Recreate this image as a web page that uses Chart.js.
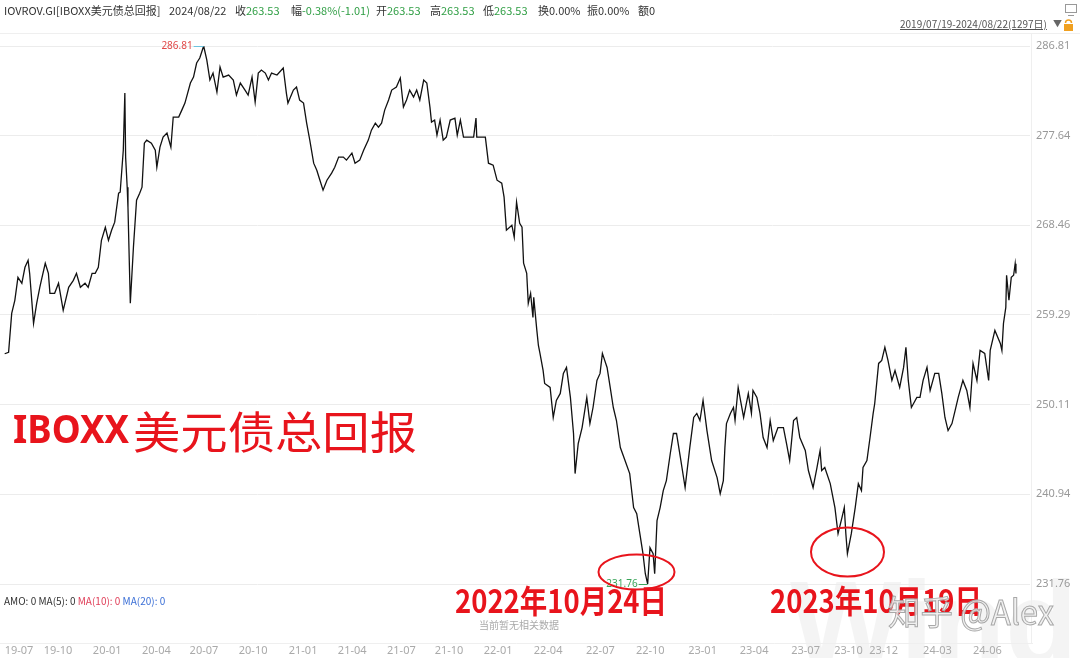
<!DOCTYPE html>
<html><head><meta charset="utf-8">
<script src="https://cdn.jsdelivr.net/npm/chart.js@4.4.1/dist/chart.umd.min.js"></script>
<style>
html,body{margin:0;padding:0;background:#fff;}
#wrap{position:relative;width:1080px;height:658px;overflow:hidden;font-family:"Noto Sans CJK SC","Noto Sans",sans-serif;}
#c{position:absolute;left:0;top:0;}
.hd{position:absolute;top:3px;font-size:11px;color:#333;white-space:nowrap;line-height:14px;}
.g{color:#2f9e44;}
#range{position:absolute;left:900px;top:17px;font-size:10px;color:#555;text-decoration:underline;white-space:nowrap;line-height:14px;}
#tri{position:absolute;left:1053px;top:17px;font-size:9px;color:#666;line-height:14px;}
</style></head><body>
<div id="wrap">
<canvas id="c" width="1080" height="658"></canvas>
<span class="hd" style="left:4px">IOVROV.GI[IBOXX美元债总回报]</span>
<span class="hd" style="left:169px">2024/08/22</span>
<span class="hd" style="left:235px">收<span class="g">263.53</span></span>
<span class="hd" style="left:291px">幅<span class="g">-0.38%(-1.01)</span></span>
<span class="hd" style="left:376px">开<span class="g">263.53</span></span>
<span class="hd" style="left:430px">高<span class="g">263.53</span></span>
<span class="hd" style="left:483px">低<span class="g">263.53</span></span>
<span class="hd" style="left:538px">换0.00%</span>
<span class="hd" style="left:587px">振0.00%</span>
<span class="hd" style="left:638px">额0</span>
<span id="range">2019/07/19-2024/08/22(1297日)</span>
<span id="tri">▼</span>
</div>
<script>
// ---- data (trading-day index since 2019/07/19, close value) ----
const dayIndex = [0,5,9,13,17,22,26,30,32,37,41,45,47,52,56,58,64,69,75,82,88,92,97,103,107,112,116,120,124,129,133,137,141,146,148,152,154,155,157,158,161,165,169,173,176,179,182,188,193,195,199,203,208,213,216,223,227,231,238,242,246,250,255,259,263,267,272,276,280,287,293,297,302,308,312,317,321,325,329,334,338,342,349,357,361,363,370,374,378,383,387,391,396,400,404,408,413,419,423,428,434,438,445,449,455,460,466,470,475,479,483,487,492,496,502,507,511,515,519,524,528,532,537,541,545,547,551,554,558,562,566,571,577,580,584,588,601,604,605,616,620,626,631,637,640,643,650,653,656,660,663,665,669,671,674,677,678,682,684,686,690,692,699,703,707,712,716,720,725,729,731,735,740,746,750,754,759,763,766,772,776,780,784,789,795,801,806,810,814,818,821,824,827,831,833,836,840,844,848,853,857,861,866,872,878,883,887,891,895,900,906,913,917,921,923,925,930,934,936,940,947,953,957,959,964,968,972,977,981,985,991,998,1002,1006,1011,1015,1019,1026,1030,1036,1041,1045,1047,1051,1058,1064,1068,1073,1076,1078,1080,1085,1090,1094,1098,1100,1105,1109,1113,1115,1120,1124,1128,1132,1137,1141,1147,1152,1155,1158,1162,1169,1173,1177,1182,1186,1192,1197,1201,1205,1209,1214,1218,1222,1228,1233,1237,1241,1246,1250,1256,1261,1263,1269,1276,1278,1280,1283,1284,1287,1290,1293,1295,1296];
const closeValues = [255.32,255.46,259.45,260.79,263.14,262.53,264.17,264.88,263.55,258.43,260.48,262.12,262.83,264.58,263.55,261.50,261.50,262.53,259.76,262.12,262.83,263.55,262.12,262.53,262.12,263.55,263.55,264.17,266.93,268.26,266.93,267.96,268.78,271.75,271.85,276.15,281.99,275.44,272.36,270.31,260.48,266.22,271.03,271.75,272.36,276.87,277.18,276.87,276.15,274.41,276.46,277.49,277.90,276.46,279.54,279.54,280.25,280.97,283.02,283.63,285.07,285.58,286.81,285.38,283.33,284.04,282.10,284.66,283.63,283.84,283.33,281.79,283.02,282.30,281.79,283.63,281.07,284.04,284.35,284.04,283.33,284.04,283.84,284.56,281.99,280.97,282.30,282.61,281.28,280.97,278.92,277.18,274.82,274.10,273.08,272.06,273.08,273.80,274.41,275.44,275.44,275.13,275.85,274.82,275.13,276.15,277.18,278.20,278.92,278.51,278.92,280.25,281.28,282.30,282.61,283.53,280.56,281.28,282.30,281.58,282.30,281.28,283.33,283.02,280.56,279.02,279.23,277.69,279.23,277.18,277.49,279.23,279.43,277.69,279.23,277.49,277.49,279.43,277.49,277.49,274.82,274.62,273.08,272.77,271.34,267.96,268.47,267.24,270.83,268.67,268.26,264.58,263.55,260.48,261.50,259.04,261.09,257.71,256.17,255.36,253.61,252.28,251.87,248.80,250.54,251.26,253.31,253.92,250.85,247.16,243.06,246.13,247.77,250.85,248.18,249.82,252.59,253.31,255.36,253.92,251.87,249.82,248.49,245.72,244.39,243.06,239.58,238.96,236.91,234.86,232.81,231.76,235.48,234.86,232.81,238.24,239.58,241.32,242.34,245.11,247.16,247.16,244.70,241.63,245.72,248.80,249.21,248.49,250.54,247.46,244.39,242.65,241.01,242.34,245.72,248.18,249.21,249.82,248.49,251.87,248.80,251.26,249.21,251.56,250.85,249.21,246.75,245.72,248.49,246.44,247.77,247.77,246.13,244.39,248.49,248.80,246.75,245.42,243.37,241.63,243.68,245.42,243.37,243.68,242.03,239.58,236.91,238.55,239.58,236.91,234.86,236.91,239.58,242.03,241.32,243.68,244.39,246.75,249.21,250.23,254.33,254.64,255.97,254.64,252.59,253.61,251.87,253.92,255.97,252.59,249.82,250.85,250.85,252.59,253.92,251.56,253.31,253.31,251.26,248.80,247.46,248.18,249.51,250.85,252.59,251.56,249.82,254.33,252.59,255.66,255.36,252.59,255.66,257.71,256.38,255.66,258.43,260.07,263.35,260.79,263.14,263.35,264.54,263.53];
const yTicks = [231.76,240.94,250.11,259.29,268.46,277.64,286.81];
const xTickIdx = [0,50,113,176,237,300,364,427,490,551,614,678,745,809,876,942,1008,1063,1108,1177,1241];
const xTickLabels = ['19-07','19-10','20-01','20-04','20-07','20-10','21-01','21-04','21-07','21-10','22-01','22-04','22-07','22-10','23-01','23-04','23-07','23-10','23-12','24-03','24-06'];
const titleText = 'IBOXX美元债总回报';
const lowNotes = ['2022年10月24日','2023年10月19日'];

Chart.defaults.font.family = '"Noto Sans CJK SC","Noto Sans",sans-serif';

function fitText(c, text, x, y, w){
  const m = c.measureText(text).width;
  c.save(); c.translate(x, y); c.scale(w / m, 1); c.fillText(text, 0, 0); c.restore();
}

const deco = {
  id: 'deco',
  beforeDraw(chart){
    const c = chart.ctx; c.save();
    c.fillStyle = 'rgba(0,0,0,0.045)';
    c.font = 'bold 118px "Liberation Sans",sans-serif';
    c.textBaseline = 'alphabetic';
    c.fillText('Wind', 790, 664);
    c.restore();
  },
  afterDraw(chart){
    const c = chart.ctx, xs = chart.scales.x, ys = chart.scales.y;
    c.save();
    c.strokeStyle = '#efefef'; c.lineWidth = 1;
    c.beginPath(); c.moveTo(0, 33.5); c.lineTo(1080, 33.5); c.stroke();
    c.beginPath(); c.moveTo(0, 643.5); c.lineTo(1033, 643.5); c.stroke();
    c.beginPath(); c.moveTo(1031.5, 33); c.lineTo(1031.5, 643); c.stroke();
    c.textBaseline = 'middle'; c.textAlign = 'left';
    c.font = '10px "Noto Sans CJK SC","Noto Sans",sans-serif';
    let x = 4;
    [['AMO: 0 MA(5): 0 ', '#333'], ['MA(10): 0 ', '#e0405a'], ['MA(20): 0', '#3b6fd6']].forEach(([t, col]) => {
      c.fillStyle = col; c.fillText(t, x, 601); x += c.measureText(t).width;
    });
    c.fillStyle = '#aaa'; c.textAlign = 'center';
    c.fillText('当前暂无相关数据', 519, 625);
    let maxI = 0, minI = 0;
    closeValues.forEach((v, i) => { if (v > closeValues[maxI]) maxI = i; if (v < closeValues[minI]) minI = i; });
    const px = xs.getPixelForValue(dayIndex[maxI]), py = ys.getPixelForValue(closeValues[maxI]);
    const qx = xs.getPixelForValue(dayIndex[minI]), qy = ys.getPixelForValue(closeValues[minI]);
    c.font = '10px "Noto Sans",sans-serif'; c.textAlign = 'right';
    c.fillStyle = '#e04848'; c.fillText(closeValues[maxI].toFixed(2), px - 11, py);
    c.strokeStyle = '#6cc4e0'; c.beginPath(); c.moveTo(px - 10, py + 0.5); c.lineTo(px, py + 0.5); c.stroke();
    c.fillStyle = '#3aa55a'; c.fillText(closeValues[minI].toFixed(2), qx - 10, qy);
    c.strokeStyle = '#3aa55a'; c.beginPath(); c.moveTo(qx - 9, qy + 0.5); c.lineTo(qx, qy + 0.5); c.stroke();
    c.strokeStyle = '#e8141c'; c.lineWidth = 2;
    c.beginPath(); c.ellipse(636.5, 572, 38, 17.5, 0, 0, Math.PI * 2); c.stroke();
    c.beginPath(); c.ellipse(847.5, 552, 36.5, 24.5, 0, 0, Math.PI * 2); c.stroke();
    c.fillStyle = '#e8141c'; c.textAlign = 'left'; c.textBaseline = 'middle';
    c.font = 'bold 40px "Noto Sans","Noto Sans CJK SC",sans-serif';
    fitText(c, titleText.slice(0, 5), 13, 432, 116);
    c.font = '44px "Noto Sans CJK SC",sans-serif';
    fitText(c, titleText.slice(5), 133, 432, 284);
    c.font = 'bold 32px "Noto Sans CJK SC",sans-serif';
    fitText(c, lowNotes[0], 455, 601, 212);
    fitText(c, lowNotes[1], 770, 601, 212);
    c.font = '34px "Noto Sans CJK SC",sans-serif';
    c.fillStyle = 'rgba(238,238,238,0.85)'; c.strokeStyle = '#a8a8a8'; c.lineWidth = 1;
    const wm = '知乎 @Alex';
    const m = c.measureText(wm).width;
    c.save(); c.translate(888, 612); c.scale(166 / m, 1); c.fillText(wm, 0, 0); c.strokeText(wm, 0, 0); c.restore();
    c.strokeStyle = '#999'; c.lineWidth = 1;
    c.strokeRect(1065.5, 4.5, 11, 8); c.beginPath(); c.moveTo(1068, 15.5); c.lineTo(1074, 15.5); c.stroke();
    c.fillStyle = '#f0a020'; c.fillRect(1064, 24, 9, 7);
    c.strokeStyle = '#f0a020'; c.lineWidth = 1.5; c.beginPath(); c.arc(1068.5, 23, 3, Math.PI, 0); c.stroke();
    c.restore();
  }
};

new Chart(document.getElementById('c').getContext('2d'), {
  type: 'line',
  data: { datasets: [{
    data: dayIndex.map((d, i) => ({ x: d, y: closeValues[i] })),
    borderColor: '#111', borderWidth: 1.3, pointRadius: 0, tension: 0, fill: false
  }]},
  options: {
    responsive: false, animation: false, devicePixelRatio: 1,
    layout: { padding: { top: 46, bottom: 4, left: 0, right: 0 } },
    plugins: { legend: { display: false }, tooltip: { enabled: false } },
    scales: {
      x: {
        type: 'linear', min: -6, max: 1314,
        afterBuildTicks: s => { s.ticks = xTickIdx.map(v => ({ value: v })); },
        afterFit: s => { s.height = 70; s.paddingLeft = 0; s.paddingRight = 0; },
        grid: { display: false, drawTicks: true, tickLength: 58 }, border: { display: false },
        ticks: { autoSkip: false, maxRotation: 0, align: 'start', padding: 2, color: '#aaa',
          font: { size: 11, family: '"Noto Sans",sans-serif' }, callback: (v, i) => xTickLabels[i] }
      },
      y: {
        position: 'right', min: 231.76, max: 286.81,
        afterBuildTicks: s => { s.ticks = yTicks.map(v => ({ value: v })); },
        afterFit: s => { s.width = 50; },
        grid: { color: '#ececec', drawTicks: false }, border: { display: false },
        ticks: { padding: 6, color: '#999', font: { size: 11, family: '"Noto Sans",sans-serif' },
          callback: v => Number(v).toFixed(2) }
      }
    }
  },
  plugins: [deco]
});
</script>
</body></html>
